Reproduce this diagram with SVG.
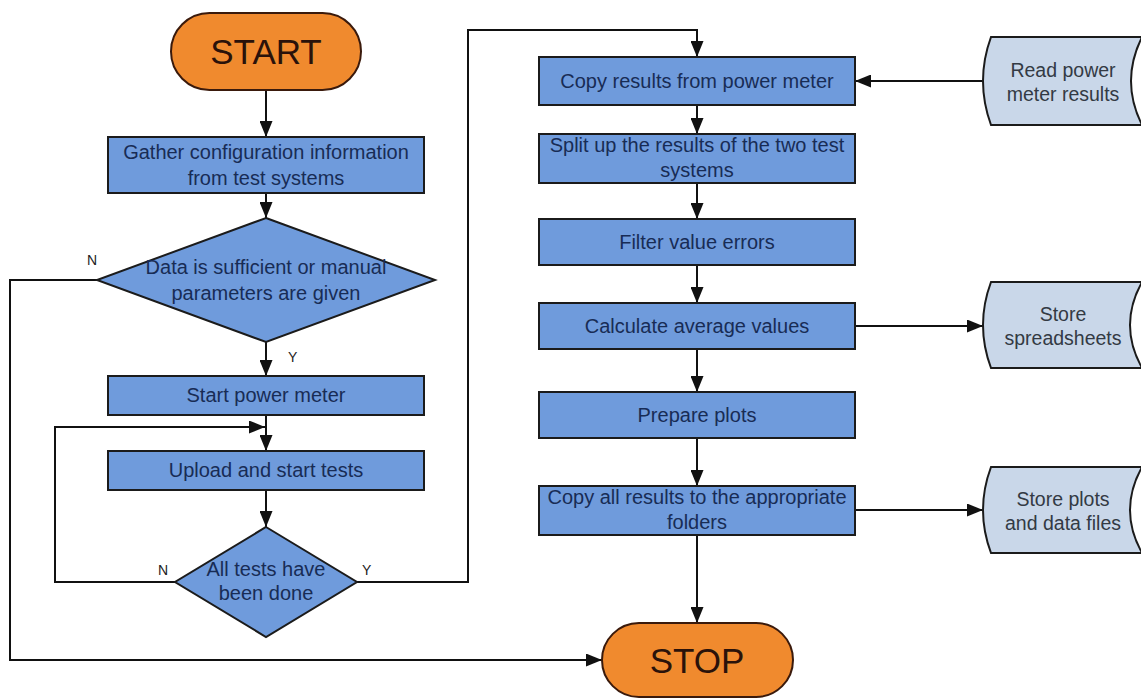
<svg xmlns="http://www.w3.org/2000/svg" width="1141" height="698" viewBox="0 0 1141 698">
<style>
.term{fill:#F08A2E;stroke:#3a1a0c;stroke-width:2}
.box{fill:#6F9BDC;stroke:#1b1b1b;stroke-width:2}
.store{fill:#C9D7E9;stroke:#1b1b1b;stroke-width:2}
.t{font-family:"Liberation Sans",Arial,sans-serif;font-size:20px;fill:#182c55;text-anchor:middle}
.ts{font-family:"Liberation Sans",Arial,sans-serif;font-size:19.5px;fill:#333a44;text-anchor:middle}
.tt{font-family:"Liberation Sans",Arial,sans-serif;font-size:35px;fill:#2a120a;text-anchor:middle}
.lbl{font-family:"Liberation Sans",Arial,sans-serif;font-size:14px;fill:#222}
.c{fill:none;stroke:#111;stroke-width:2}
</style>
<defs>
<marker id="ah" viewBox="0 0 16 13" refX="16" refY="6.5" markerWidth="16" markerHeight="13" markerUnits="userSpaceOnUse" orient="auto">
<path d="M0,0 L16,6.5 L0,13 Z" fill="#111"/>
</marker>
</defs>
<rect width="1141" height="698" fill="#fff"/>
<g id="connectors">
<path class="c" d="M266,90 V137" marker-end="url(#ah)"/>
<path class="c" d="M266,193 V218" marker-end="url(#ah)"/>
<path class="c" d="M266,342 V376" marker-end="url(#ah)"/>
<path class="c" d="M266,415 V451" marker-end="url(#ah)"/>
<path class="c" d="M266,490 V527" marker-end="url(#ah)"/>
<path class="c" d="M175,582 H55 V427 H265" marker-end="url(#ah)"/>
<path class="c" d="M357,582 H468 V30 H697 V57" marker-end="url(#ah)"/>
<path class="c" d="M97,280 H10 V660 H602" marker-end="url(#ah)"/>
<path class="c" d="M983,81 H855" marker-end="url(#ah)"/>
<path class="c" d="M697,105 V134" marker-end="url(#ah)"/>
<path class="c" d="M697,183 V219" marker-end="url(#ah)"/>
<path class="c" d="M697,265 V303" marker-end="url(#ah)"/>
<path class="c" d="M697,349 V392" marker-end="url(#ah)"/>
<path class="c" d="M697,438 V486" marker-end="url(#ah)"/>
<path class="c" d="M697,535 V623" marker-end="url(#ah)"/>
<path class="c" d="M855,326 H983" marker-end="url(#ah)"/>
<path class="c" d="M855,510 H983" marker-end="url(#ah)"/>
<text class="lbl" x="87" y="265">N</text>
<text class="lbl" x="288" y="362">Y</text>
<text class="lbl" x="158" y="575">N</text>
<text class="lbl" x="362" y="575">Y</text>
</g>
<g id="start">
<rect class="term" x="171" y="13" width="190" height="77" rx="38.5"/>
<text class="tt" x="266" y="64">START</text>
</g>
<g id="gather">
<rect class="box" x="108" y="137" width="316" height="56"/>
<text class="t" x="266" y="159">Gather configuration information</text>
<text class="t" x="266" y="185">from test systems</text>
</g>
<g id="decision-data">
<polygon class="box" points="266,218 435,280 266,342 97,280"/>
<text class="t" x="266" y="274">Data is sufficient or manual</text>
<text class="t" x="266" y="300">parameters are given</text>
</g>
<g id="start-power-meter">
<rect class="box" x="108" y="376" width="316" height="39"/>
<text class="t" x="266" y="402">Start power meter</text>
</g>
<g id="upload">
<rect class="box" x="108" y="451" width="316" height="39"/>
<text class="t" x="266" y="477">Upload and start tests</text>
</g>
<g id="decision-tests">
<polygon class="box" points="266,527 357,582 266,637 175,582"/>
<text class="t" x="266" y="576">All tests have</text>
<text class="t" x="266" y="600">been done</text>
</g>
<g id="copy-results">
<rect class="box" x="539" y="57" width="316" height="48"/>
<text class="t" x="697" y="88">Copy results from power meter</text>
</g>
<g id="split">
<rect class="box" x="539" y="134" width="316" height="49"/>
<text class="t" x="697" y="152">Split up the results of the two test</text>
<text class="t" x="697" y="177">systems</text>
</g>
<g id="filter">
<rect class="box" x="539" y="219" width="316" height="46"/>
<text class="t" x="697" y="249">Filter value errors</text>
</g>
<g id="calculate">
<rect class="box" x="539" y="303" width="316" height="46"/>
<text class="t" x="697" y="333">Calculate average values</text>
</g>
<g id="prepare">
<rect class="box" x="539" y="392" width="316" height="46"/>
<text class="t" x="697" y="422">Prepare plots</text>
</g>
<g id="copy-all">
<rect class="box" x="539" y="486" width="316" height="49"/>
<text class="t" x="697" y="504">Copy all results to the appropriate</text>
<text class="t" x="697" y="529">folders</text>
</g>
<g id="stop">
<rect class="term" x="602" y="623" width="191" height="74" rx="37"/>
<text class="tt" x="697" y="673">STOP</text>
</g>
<g id="read-power">
<path class="store" d="M991,37 L1142,37 Q1120,81 1142,125 L991,125 Q975,81 991,37 Z"/>
<text class="ts" x="1063" y="77">Read power</text>
<text class="ts" x="1063" y="101">meter results</text>
</g>
<g id="store-spreadsheets">
<path class="store" d="M991,282 L1142,282 Q1118,325 1142,368 L991,368 Q975,325 991,282 Z"/>
<text class="ts" x="1063" y="321">Store</text>
<text class="ts" x="1063" y="345">spreadsheets</text>
</g>
<g id="store-plots">
<path class="store" d="M991,467 L1142,467 Q1118,510 1142,553 L991,553 Q975,510 991,467 Z"/>
<text class="ts" x="1063" y="506">Store plots</text>
<text class="ts" x="1063" y="530">and data files</text>
</g>
</svg>
